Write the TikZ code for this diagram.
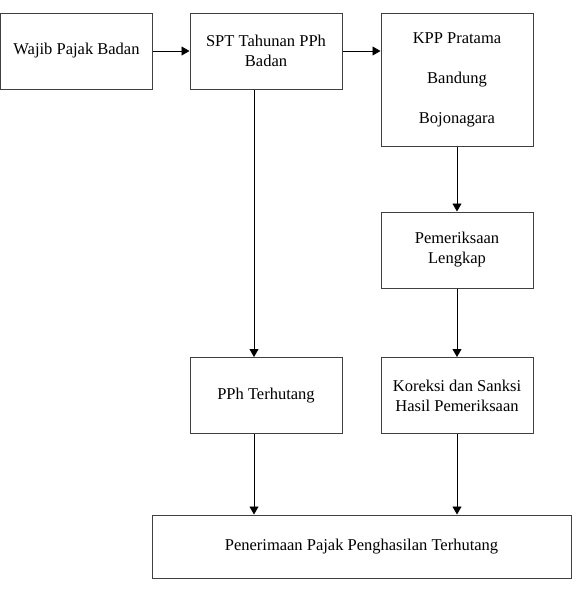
\documentclass[tikz,border=0pt]{standalone}
\usepackage{fontspec}
\setmainfont{Liberation Serif}
\usetikzlibrary{arrows.meta}

\tikzset{
  kotak/.style = {draw = black!75, line width = 1pt, align = center, inner sep = 0pt,
    minimum width = 152pt, minimum height = 76pt, font = \fontsize{16.5}{20}\selectfont},
  panah/.style = {-{Triangle[length = 8pt, width = 9pt]}, line width = 0.8pt}
}

\begin{document}
\begin{tikzpicture}[x = 1pt, y = -1pt]
      \useasboundingbox (0, 0) rectangle (576, 600);
      \node [kotak] (wp) at (76.5, 51) {Wajib Pajak Badan};
      \node [kotak] (spt) at (266, 51) {SPT Tahunan PPh\\Badan};
      \node [kotak, minimum height = 133pt] (kpp) at (457, 79.5) {KPP Pratama\\[20pt]Bandung\\[20pt]Bojonagara};
      \node [kotak] (pem) at (457, 250) {Pemeriksaan\\Lengkap};
      \node [kotak] (pph) at (266, 395.5) {PPh Terhutang};
      \node [kotak] (kor) at (457, 395.5) {Koreksi dan Sanksi\\Hasil Pemeriksaan};
      \node [kotak, minimum width = 419pt, minimum height = 63pt] (pen) at (361.5, 546.5) {Penerimaan Pajak Penghasilan Terhutang};
      \coordinate (kol) at (254, 0);
      \draw [panah] (wp.east) -- (spt.west);
      \draw [panah] (spt.east) -- (spt.east -| kpp.west);
      \draw [panah] (kpp.south) -- (pem.north);
      \draw [panah] (pem.south) -- (kor.north);
      \draw [panah] (spt.south -| kol) -- (pph.north -| kol);
      \draw [panah] (pph.south -| kol) -- (pen.north -| kol);
      \draw [panah] (kor.south) -- (kor.south |- pen.north);
    \end{tikzpicture}
\end{document}
